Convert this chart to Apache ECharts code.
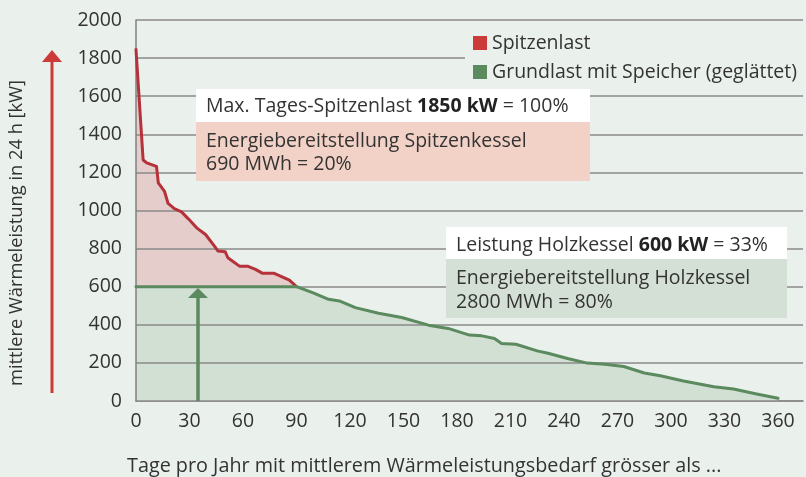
<!DOCTYPE html>
<html>
<head>
<meta charset="utf-8">
<script src="https://cdn.jsdelivr.net/npm/echarts@6/dist/echarts.min.js"></script>
<style>
  html, body { margin: 0; padding: 0; background: #eaf0eb; }
  #chart { width: 806px; height: 477px; }
</style>
</head>
<body>
<div id="chart"></div>
<script>
// Spitzenlast (Tageskurve bis zum Schnittpunkt mit 600 kW)
const peakDays = [0, 4, 6, 11.5, 12.5, 16, 18, 21.5, 25.5, 29.5, 34, 39, 44, 46, 50, 51.5, 58, 62.5, 67, 71, 77.5, 81, 86, 90];
const peakLoad = [1845, 1265, 1250, 1232, 1145, 1100, 1037, 1010, 993, 955, 909, 874, 813, 787, 784, 752, 708, 708, 691, 670, 670, 656, 634, 600];

// Grundlast mit Speicher (geglättet)
const baseDays = [0, 90, 99, 108, 114, 123, 136, 149, 164, 175, 187, 194, 201, 205, 213, 225, 231, 242, 253, 263, 273.5, 285, 294, 307, 324, 335, 348, 360];
const baseLoad = [600, 600, 569, 534, 525, 490, 461, 438, 398, 381, 346, 342, 328, 302, 298, 263, 251, 223, 199, 193, 181, 147, 133, 105, 75, 63, 37, 14];

const xTicks = [0, 30, 60, 90, 120, 150, 180, 210, 240, 270, 300, 330, 360];
const yTicks = [0, 200, 400, 600, 800, 1000, 1200, 1400, 1600, 1800, 2000];

const seriesNames = ['Spitzenlast', 'Grundlast mit Speicher (geglättet)'];
const yTitle = 'mittlere Wärmeleistung in 24 h [kW]';
const xTitle = 'Tage pro Jahr mit mittlerem Wärmeleistungsbedarf grösser als ...';

const FONT = '"Open Sans", Lato, sans-serif';
const FS = 19.5;
const RED = '#b5323a', RED_KEY = '#cc3a3a';
const GREEN = '#5a8a5e';

function pairs(xs, ys) { return xs.map(function (x, i) { return [x, ys[i]]; }); }

const chart = echarts.init(document.getElementById('chart'), null, { renderer: 'canvas' });

function textEl(x, y, parts) {
  // parts: [[text, bold], ...]
  const txt = parts.map(function (p) { return '{' + (p[1] ? 'b' : 'n') + '|' + p[0] + '}'; }).join('');
  return {
    type: 'text', x: x, y: y, z: 21,
    style: {
      text: txt, verticalAlign: 'middle',
      rich: {
        n: { fontFamily: FONT, fontSize: FS, fill: '#333', fontWeight: 'normal' },
        b: { fontFamily: FONT, fontSize: FS, fill: '#222', fontWeight: 'bold' }
      }
    }
  };
}
function rect(x, y, w, h, c) {
  return { type: 'rect', z: 20, shape: { x: x, y: y, width: w, height: h }, style: { fill: c } };
}

chart.setOption({
  backgroundColor: '#eaf0eb',
  animation: false,
  grid: { left: 136, right: 0, top: 20, bottom: 76 },
  legend: {
    orient: 'vertical',
    left: 465, top: 25,
    padding: [8, 60, 8, 8],
    backgroundColor: '#eaf0eb',
    itemWidth: 14, itemHeight: 14, itemGap: 9,
    icon: 'rect',
    z: 10,
    textStyle: { fontFamily: FONT, fontSize: FS, color: '#333', lineHeight: 16 },
    data: [
      { name: seriesNames[0], itemStyle: { color: RED_KEY } },
      { name: seriesNames[1], itemStyle: { color: GREEN } }
    ]
  },
  xAxis: {
    type: 'value', min: 0, max: 374, interval: 30,
    axisLine: { show: true, lineStyle: { color: '#808080', width: 1.5 } },
    axisTick: { show: false },
    splitLine: { show: false },
    axisLabel: {
      margin: 10, fontFamily: FONT, fontSize: FS, color: '#333',
      formatter: function (v) { return xTicks.indexOf(v) >= 0 ? String(v) : ''; }
    }
  },
  yAxis: {
    type: 'value', min: 0, max: 2000, interval: 200, z: 2,
    axisLine: { show: true, lineStyle: { color: '#808080', width: 1.5 } },
    axisTick: { show: false },
    splitLine: { show: true, lineStyle: { color: '#8a8a8a', width: 1.5 } },
    axisLabel: {
      margin: 14, fontFamily: FONT, fontSize: FS, color: '#333',
      formatter: function (v) { return yTicks.indexOf(v) >= 0 ? String(v) : ''; }
    }
  },
  series: [
    { // pink fill under peak curve
      name: seriesNames[0], type: 'line', z: 1, silent: true,
      data: pairs(peakDays, peakLoad), showSymbol: false,
      lineStyle: { width: 0 }, itemStyle: { color: RED_KEY },
      areaStyle: { color: '#e4cdca', opacity: 1 }
    },
    { // green fill under base curve
      name: seriesNames[1], type: 'line', z: 1, silent: true,
      data: pairs(baseDays, baseLoad), showSymbol: false,
      lineStyle: { width: 0 }, itemStyle: { color: GREEN },
      areaStyle: { color: '#d2dfd3', opacity: 1 }
    },
    {
      name: seriesNames[0], type: 'line', z: 3,
      data: pairs(peakDays, peakLoad), showSymbol: false,
      itemStyle: { color: RED_KEY },
      lineStyle: { color: RED, width: 3, cap: 'round', join: 'round' }
    },
    {
      name: seriesNames[1], type: 'line', z: 4,
      data: pairs(baseDays, baseLoad), showSymbol: false,
      itemStyle: { color: GREEN },
      lineStyle: { color: GREEN, width: 3, cap: 'round', join: 'round' }
    }
  ],
  graphic: [
    { type: 'text', x: 17, y: 233, rotation: Math.PI / 2, z: 20,
      style: { text: yTitle, fontFamily: FONT, fontSize: 18.3, fill: '#333', align: 'center', verticalAlign: 'middle' } },
    { type: 'text', x: 127, y: 466, z: 20,
      style: { text: xTitle, fontFamily: FONT, fontSize: 19.8, fill: '#333', verticalAlign: 'middle' } },
    // Pfeile
    { type: 'line', z: 20, shape: { x1: 52, y1: 393, x2: 52, y2: 60 }, style: { stroke: RED_KEY, lineWidth: 3 } },
    { type: 'polygon', z: 20, shape: { points: [[42, 62], [52, 50], [62, 62]] }, style: { fill: RED_KEY } },
    { type: 'line', z: 20, shape: { x1: 198, y1: 401, x2: 198, y2: 296 }, style: { stroke: GREEN, lineWidth: 3.5 } },
    { type: 'polygon', z: 20, shape: { points: [[188, 298], [198, 288], [208, 298]] }, style: { fill: GREEN } },
    // Kasten Spitzenkessel
    rect(196, 89, 394, 33, '#ffffff'),
    rect(196, 122, 394, 59, '#f2d1c6'),
    textEl(206, 106, [['Max. Tages-Spitzenlast ', false], ['1850 kW', true], [' = 100%', false]]),
    textEl(206, 141, [['Energiebereitstellung Spitzenkessel', false]]),
    textEl(206, 164, [['690 MWh = 20%', false]]),
    // Kasten Holzkessel
    rect(446, 227, 341, 32, '#ffffff'),
    rect(446, 259, 341, 59, '#d4e0d5'),
    textEl(456, 245, [['Leistung Holzkessel ', false], ['600 kW', true], [' = 33%', false]]),
    textEl(456, 278, [['Energiebereitstellung Holzkessel', false]]),
    textEl(456, 302, [['2800 MWh = 80%', false]])
  ]
});
</script>
</body>
</html>
